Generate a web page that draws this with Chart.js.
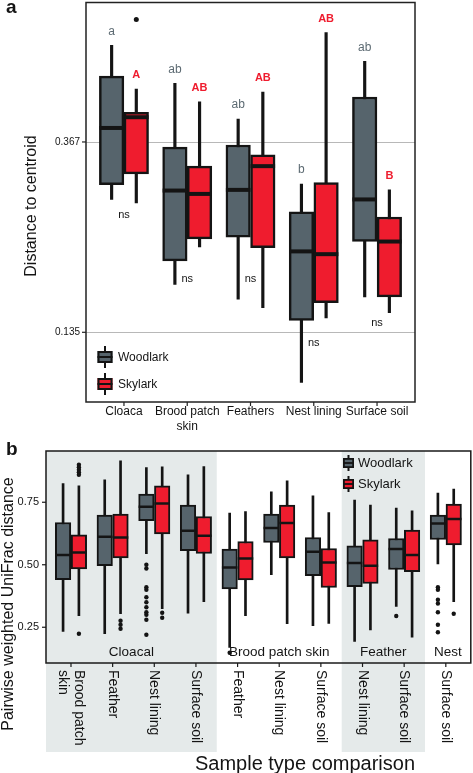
<!DOCTYPE html>
<html>
<head>
<meta charset="utf-8">
<script src="https://cdn.jsdelivr.net/npm/chart.js@4.4.0/dist/chart.umd.min.js"></script>
<style>
  body { margin: 0; background: #fff; width: 473px; height: 773px; overflow: hidden; position: relative; }
  canvas { position: absolute; left: 0; }
  #ca { top: 0; width: 473px; height: 440px; }
  #cb { top: 440px; width: 473px; height: 333px; }
</style>
</head>
<body>
<canvas id="ca" width="473" height="440"></canvas>
<canvas id="cb" width="473" height="333"></canvas>
<script>
// Panel a: distance to centroid by sample type (log axis)
// each box: [lower whisker, Q1, median, Q3, upper whisker]
const sampleTypes = ['Cloaca', ['Brood patch', 'skin'], 'Feathers', 'Nest lining', 'Surface soil'];
const woodlarkA = [
  [0.272, 0.294, 0.396, 0.520, 0.611],
  [0.174, 0.197, 0.285, 0.358, 0.501],
  [0.161, 0.223, 0.286, 0.362, 0.415],
  [0.104, 0.144, 0.207, 0.255, 0.295],
  [0.163, 0.218, 0.272, 0.466, 0.562]
];
const skylarkA = [
  [0.267, 0.311, 0.419, 0.430, 0.486],
  [0.212, 0.221, 0.280, 0.324, 0.454],
  [0.154, 0.211, 0.324, 0.344, 0.478],
  [0.146, 0.158, 0.204, 0.297, 0.654],
  [0.150, 0.163, 0.218, 0.248, 0.286]
];
const woodlarkOutA = [[], [], [], [], []];
const skylarkOutA = [[0.700], [], [], [], []];
const woodlarkLetters = ['a', 'ab', 'ab', 'b', 'ab'];
const skylarkLetters = ['A', 'AB', 'AB', 'AB', 'B'];
const nsLevelA = [0.251, 0.179, 0.179, 0.128, 0.142];
const tickValuesA = [0.1353, 0.3679];
const tickLabelsA = ['0.135', '0.367'];

// Panel b: pairwise weighted UniFrac distance per sample type comparison
const comparisons = [['Brood patch', 'skin'], 'Feather', 'Nest lining', 'Surface soil',
  'Feather', 'Nest lining', 'Surface soil', 'Nest lining', 'Surface soil', 'Surface soil'];
const groupNames = ['Cloacal', 'Brood patch skin', 'Feather', 'Nest'];
const groupSizes = [4, 3, 2, 1];
const woodlarkB = [
  [0.233, 0.440, 0.539, 0.669, 0.825],
  [0.224, 0.496, 0.612, 0.699, 0.840],
  [0.544, 0.676, 0.732, 0.783, 0.889],
  [0.306, 0.556, 0.636, 0.739, 0.860],
  [0.169, 0.403, 0.489, 0.563, 0.707],
  [0.460, 0.589, 0.647, 0.703, 0.792],
  [0.256, 0.456, 0.552, 0.609, 0.776],
  [0.193, 0.412, 0.507, 0.576, 0.759],
  [0.333, 0.481, 0.563, 0.605, 0.727],
  [0.503, 0.601, 0.665, 0.699, 0.787]
];
const skylarkB = [
  [0.296, 0.483, 0.549, 0.620, 0.816],
  [0.304, 0.527, 0.609, 0.703, 0.916],
  [0.324, 0.623, 0.745, 0.816, 0.892],
  [0.352, 0.545, 0.616, 0.693, 0.893],
  [0.296, 0.439, 0.525, 0.593, 0.713],
  [0.264, 0.527, 0.667, 0.739, 0.836],
  [0.265, 0.409, 0.509, 0.565, 0.709],
  [0.239, 0.425, 0.496, 0.600, 0.739],
  [0.210, 0.472, 0.539, 0.639, 0.716],
  [0.352, 0.579, 0.683, 0.743, 0.803]
];
const woodlarkOutB = [[], [], [0.50, 0.485, 0.41, 0.40, 0.37, 0.35, 0.33, 0.31, 0.30, 0.28, 0.22], [],
  [0.148], [], [], [], [0.295], [0.41, 0.40, 0.36, 0.345, 0.31, 0.26, 0.23]];
const skylarkOutB = [[0.90, 0.89, 0.88, 0.87, 0.86, 0.224], [0.276, 0.26, 0.244], [0.308, 0.288], [],
  [], [], [], [], [], [0.304]];
const tickValuesB = [0.25, 0.50, 0.75];

const FONT = '"Liberation Sans", Arial, sans-serif';
const GREY = '#56646c', RED = '#ef1c2e', INK = '#141414';
const LETTER_GREY = '#5c6a72';

function boxSets(stats, offset, fill, boxW, lineW, whiskW) {
  return [
    { type: 'bar', order: 3, grouped: false, barThickness: whiskW,
      backgroundColor: INK, borderWidth: 0,
      data: stats.map((s, i) => ({ x: i + offset, y: [s[0], s[4]] })) },
    { type: 'bar', order: 2, grouped: false, barThickness: boxW,
      backgroundColor: fill, borderColor: INK, borderWidth: lineW, borderSkipped: false,
      data: stats.map((s, i) => ({ x: i + offset, y: [s[1], s[3]] })) }
  ];
}

function outlierSet(lists, offset, r) {
  const pts = [];
  lists.forEach((l, i) => l.forEach(v => pts.push({ x: i + offset, y: v })));
  return { type: 'scatter', order: 0, data: pts, pointRadius: r, pointHoverRadius: r,
    backgroundColor: INK, borderWidth: 0 };
}

function drawMedians(chart, stats, offset, w, lw) {
  const ctx = chart.ctx, x = chart.scales.x, y = chart.scales.y;
  ctx.save();
  ctx.strokeStyle = INK;
  ctx.lineWidth = lw;
  stats.forEach((s, i) => {
    const cx = x.getPixelForValue(i + offset), cy = y.getPixelForValue(s[2]);
    ctx.beginPath();
    ctx.moveTo(cx - w / 2, cy);
    ctx.lineTo(cx + w / 2, cy);
    ctx.stroke();
  });
  ctx.restore();
}

function legendIcon(ctx, cx, cy, w, h, whisk, fill, lw) {
  ctx.fillStyle = INK;
  ctx.fillRect(cx - 1, cy - h / 2 - whisk, 2, h + 2 * whisk);
  ctx.fillStyle = fill;
  ctx.fillRect(cx - w / 2, cy - h / 2, w, h);
  ctx.strokeStyle = INK;
  ctx.lineWidth = lw;
  ctx.strokeRect(cx - w / 2 + lw / 2, cy - h / 2 + lw / 2, w - lw, h - lw);
  ctx.beginPath();
  ctx.moveTo(cx - w / 2, cy);
  ctx.lineTo(cx + w / 2, cy);
  ctx.stroke();
}

function text(ctx, str, x, y, font, color, align, base) {
  ctx.font = font;
  ctx.fillStyle = color;
  ctx.textAlign = align || 'center';
  ctx.textBaseline = base || 'middle';
  ctx.fillText(str, x, y);
}

// ---------- panel a ----------
const OFF_A = 0.195, BOX_A = 24.5;

const panelA = {
  id: 'panelA',
  beforeDatasetsDraw(chart) {
    const ctx = chart.ctx, a = chart.chartArea, y = chart.scales.y;
    ctx.save();
    ctx.strokeStyle = '#b8b8b8';
    ctx.lineWidth = 1;
    tickValuesA.forEach(v => {
      const py = Math.round(y.getPixelForValue(v)) + 0.5;
      ctx.beginPath(); ctx.moveTo(a.left, py); ctx.lineTo(a.right, py); ctx.stroke();
    });
    ctx.restore();
  },
  afterDatasetsDraw(chart) {
    const ctx = chart.ctx, a = chart.chartArea, x = chart.scales.x, y = chart.scales.y;
    drawMedians(chart, woodlarkA, -OFF_A, BOX_A, 4);
    drawMedians(chart, skylarkA, OFF_A, BOX_A, 4);
    ctx.save();
    // letters above whiskers, ns between boxes
    sampleTypes.forEach((c, i) => {
      text(ctx, woodlarkLetters[i], x.getPixelForValue(i - OFF_A),
        y.getPixelForValue(woodlarkA[i][4]) - 14, '12px ' + FONT, LETTER_GREY);
      text(ctx, skylarkLetters[i], x.getPixelForValue(i + OFF_A),
        y.getPixelForValue(skylarkA[i][4]) - 14, 'bold 11px ' + FONT, RED);
      text(ctx, 'ns', x.getPixelForValue(i), y.getPixelForValue(nsLevelA[i]), '11px ' + FONT, INK);
    });
    // frame
    ctx.strokeStyle = '#222';
    ctx.lineWidth = 1.5;
    ctx.strokeRect(a.left, a.top, a.right - a.left, a.bottom - a.top);
    // y ticks
    ctx.lineWidth = 1.2;
    tickValuesA.forEach((v, k) => {
      const py = y.getPixelForValue(v);
      ctx.beginPath(); ctx.moveTo(a.left - 4, py); ctx.lineTo(a.left, py); ctx.stroke();
      text(ctx, tickLabelsA[k], a.left - 6, py, '10px ' + FONT, INK, 'right');
    });
    // x ticks and labels
    sampleTypes.forEach((c, i) => {
      const px = x.getPixelForValue(i);
      ctx.beginPath(); ctx.moveTo(px, a.bottom); ctx.lineTo(px, a.bottom + 4); ctx.stroke();
      const lines = Array.isArray(c) ? c : [c];
      lines.forEach((l, j) => text(ctx, l, px, a.bottom + 10 + j * 15, '12px ' + FONT, INK));
    });
    // axis title
    ctx.save();
    ctx.translate(32, 206);
    ctx.rotate(-Math.PI / 2);
    text(ctx, 'Distance to centroid', 0, 0, '16px ' + FONT, INK);
    ctx.restore();
    // legend
    legendIcon(ctx, 105, 357, 15, 12, 5, GREY, 2);
    text(ctx, 'Woodlark', 118, 358, '12px ' + FONT, INK, 'left');
    legendIcon(ctx, 105, 384, 15, 12, 5, RED, 2);
    text(ctx, 'Skylark', 118, 385, '12px ' + FONT, INK, 'left');
    // panel tag
    text(ctx, 'a', 6, 13, 'bold 19px ' + FONT, INK, 'left', 'alphabetic');
    ctx.restore();
  }
};

new Chart(document.getElementById('ca'), {
  type: 'bar',
  data: {
    datasets: [
      ...boxSets(woodlarkA, -OFF_A, GREY, BOX_A, 2.5, 2.5),
      ...boxSets(skylarkA, OFF_A, RED, BOX_A, 2.5, 2.5),
      outlierSet(woodlarkOutA, -OFF_A, 2.5),
      outlierSet(skylarkOutA, OFF_A, 2.5)
    ]
  },
  options: {
    responsive: false,
    devicePixelRatio: 1,
    animation: false,
    events: [],
    layout: { padding: { left: 86, right: 58, top: 1, bottom: 38 } },
    scales: {
      x: { type: 'linear', min: -0.6, max: 4.6, offset: false, display: false },
      y: { type: 'logarithmic', min: 0.0938, max: 0.7657, display: false }
    },
    plugins: { legend: { display: false }, tooltip: { enabled: false } }
  },
  plugins: [panelA]
});

// ---------- panel b ----------
const OFF_B = 0.19, BOX_B = 15.5;

function groupSpans() {
  const spans = [];
  let start = 0;
  groupSizes.forEach((n, g) => {
    const lo = g === 0 ? -0.6 : start - 0.5;
    const hi = g === groupSizes.length - 1 ? start + n - 1 + 0.6 : start + n - 0.5;
    spans.push([lo, hi]);
    start += n;
  });
  return spans;
}

const panelB = {
  id: 'panelB',
  beforeDatasetsDraw(chart) {
    const ctx = chart.ctx, a = chart.chartArea, x = chart.scales.x;
    ctx.save();
    ctx.fillStyle = '#e5eaea';
    groupSpans().forEach((s, g) => {
      if (g % 2 !== 0) return;
      const x0 = x.getPixelForValue(s[0]), x1 = x.getPixelForValue(s[1]);
      ctx.fillRect(x0, a.top, x1 - x0, 312 - a.top);
    });
    ctx.restore();
  },
  afterDatasetsDraw(chart) {
    const ctx = chart.ctx, a = chart.chartArea, x = chart.scales.x, y = chart.scales.y;
    drawMedians(chart, woodlarkB, -OFF_B, BOX_B, 2.5);
    drawMedians(chart, skylarkB, OFF_B, BOX_B, 2.5);
    ctx.save();
    // group labels inside the plot
    groupSpans().forEach((s, g) => {
      text(ctx, groupNames[g], x.getPixelForValue((s[0] + s[1]) / 2), a.bottom - 11,
        '13.5px ' + FONT, INK);
    });
    // frame
    ctx.strokeStyle = '#1a1a1a';
    ctx.lineWidth = 1.5;
    ctx.strokeRect(a.left, a.top, a.right - a.left, a.bottom - a.top);
    // y ticks
    ctx.lineWidth = 1.2;
    tickValuesB.forEach(v => {
      const py = y.getPixelForValue(v);
      ctx.beginPath(); ctx.moveTo(a.left - 4, py); ctx.lineTo(a.left, py); ctx.stroke();
      text(ctx, v.toFixed(2), a.left - 7, py, '11px ' + FONT, INK, 'right');
    });
    // x ticks and rotated labels
    comparisons.forEach((c, i) => {
      const px = x.getPixelForValue(i);
      ctx.beginPath(); ctx.moveTo(px, a.bottom); ctx.lineTo(px, a.bottom + 4); ctx.stroke();
      const lines = Array.isArray(c) ? c : [c];
      ctx.save();
      ctx.translate(px, a.bottom + 7);
      ctx.rotate(Math.PI / 2);
      lines.forEach((l, j) => text(ctx, l, 0, (j - (lines.length - 1) / 2) * 16,
        '14px ' + FONT, INK, 'left'));
      ctx.restore();
    });
    // axis titles
    ctx.save();
    ctx.translate(9, 164);
    ctx.rotate(-Math.PI / 2);
    text(ctx, 'Pairwise weighted UniFrac distance', 0, 0, '16px ' + FONT, INK);
    ctx.restore();
    text(ctx, 'Sample type comparison', 305, 324, '20px ' + FONT, INK);
    // legend
    legendIcon(ctx, 348.5, 23, 11, 10, 3, GREY, 1.8);
    text(ctx, 'Woodlark', 358, 23, '13px ' + FONT, INK, 'left');
    legendIcon(ctx, 348.5, 44, 11, 10, 3, RED, 1.8);
    text(ctx, 'Skylark', 358, 44, '13px ' + FONT, INK, 'left');
    // panel tag
    text(ctx, 'b', 6, 15, 'bold 19px ' + FONT, INK, 'left', 'alphabetic');
    ctx.restore();
  }
};

new Chart(document.getElementById('cb'), {
  type: 'bar',
  data: {
    datasets: [
      ...boxSets(woodlarkB, -OFF_B, GREY, BOX_B, 2, 2),
      ...boxSets(skylarkB, OFF_B, RED, BOX_B, 2, 2),
      outlierSet(woodlarkOutB, -OFF_B, 2.2),
      outlierSet(skylarkOutB, OFF_B, 2.2)
    ]
  },
  options: {
    responsive: false,
    devicePixelRatio: 1,
    animation: false,
    events: [],
    layout: { padding: { left: 46, right: 1, top: 11, bottom: 110 } },
    scales: {
      x: { type: 'linear', min: -0.6, max: 9.6, offset: false, display: false },
      y: { type: 'linear', min: 0.107, max: 0.955, display: false }
    },
    plugins: { legend: { display: false }, tooltip: { enabled: false } }
  },
  plugins: [panelB]
});
</script>
</body>
</html>
